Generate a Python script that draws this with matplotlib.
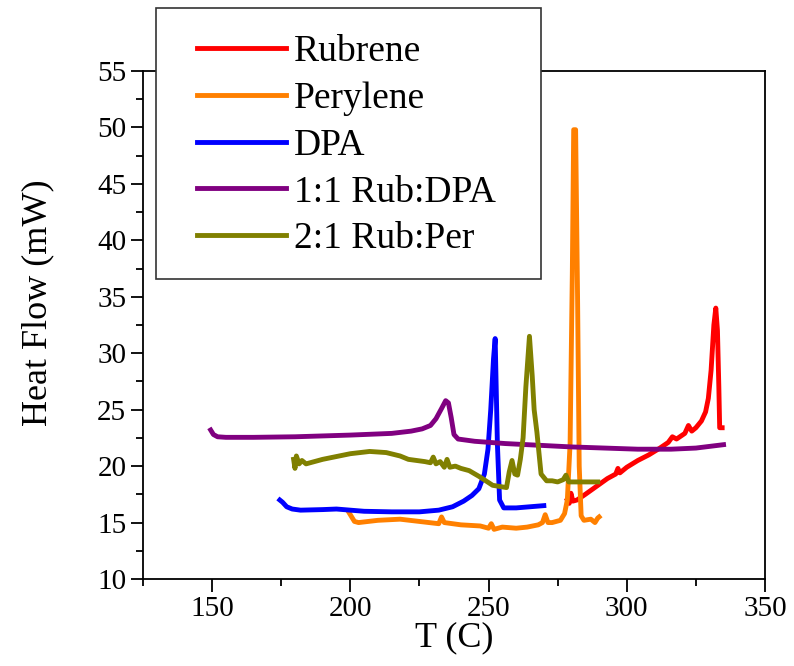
import matplotlib
matplotlib.use("Agg")
import matplotlib.pyplot as plt
from matplotlib.patches import Rectangle
from matplotlib.ticker import MultipleLocator

plt.rcParams.update({
    "font.family": ["Liberation Serif", "DejaVu Serif"],
    "axes.linewidth": 1.3,
})

RED = "#ff0000"
ORANGE = "#ff8000"
BLUE = "#0000ff"
PURPLE = "#800080"
OLIVE = "#808000"

# Rubrene
rub_T = [278.5, 279.2, 279.8, 280.5, 282, 285, 289, 293, 296, 296.8, 297.5, 300, 304, 308,
         312, 315, 316.5, 318, 321, 322.3, 323.5, 325, 327, 328.5, 329.5, 330.5, 331.5,
         332.2, 332.8, 333.3, 333.6, 334.5]
rub_H = [17.0, 16.7, 17.6, 16.9, 17.0, 17.5, 18.2, 18.9, 19.3, 19.8, 19.4, 19.9, 20.5, 21.0,
         21.6, 22.1, 22.6, 22.4, 22.9, 23.6, 23.1, 23.4, 24.0, 24.8, 26.0, 28.5, 32.5,
         34.0, 32.0, 27.0, 23.4, 23.4]

# Perylene
per_T = [199.5, 200.5, 201.5, 203, 210, 218, 225, 232, 233, 234, 240, 247, 250, 251, 252,
         255, 260, 264, 268, 269.5, 270.5, 271.5, 273, 276, 277.5, 278.5, 279.5, 280.3,
         280.8, 281.5, 282.2, 282.8, 283.5, 284.5, 287, 288.5, 289.5, 290]
per_H = [15.9, 15.5, 15.1, 15.0, 15.2, 15.3, 15.1, 14.9, 15.5, 15.0, 14.8, 14.7, 14.5, 14.9,
         14.4, 14.6, 14.5, 14.6, 14.8, 15.0, 15.7, 15.0, 15.0, 15.2, 15.8, 17.0, 22.0, 37.0,
         49.8, 49.8, 35.0, 20.0, 15.6, 15.2, 15.3, 15.0, 15.4, 15.5]

# DPA
dpa_T = [174.5, 175.5, 177, 179, 182, 190, 195, 205, 215, 225, 232, 237, 241, 244, 246.5,
         248.5, 249.8, 250.8, 251.8, 252.4, 253.2, 254, 255.5, 260, 265, 270]
dpa_H = [17.0, 16.8, 16.4, 16.2, 16.1, 16.15, 16.2, 16.0, 15.95, 15.95, 16.1, 16.4, 16.9,
         17.4, 18.0, 19.3, 21.5, 25.0, 29.5, 31.3, 22.0, 17.0, 16.3, 16.3, 16.4, 16.5]

# 1:1 Rub:DPA
rd_T = [149.5, 150.5, 152, 155, 165, 180, 200, 215, 222, 226, 229, 231, 233, 234.5, 235.5,
        236.5, 237.5, 239, 245, 256, 268, 280, 292, 304, 316, 325, 335]
rd_H = [23.2, 22.8, 22.6, 22.55, 22.55, 22.6, 22.75, 22.9, 23.1, 23.3, 23.6, 24.2, 25.1,
        25.8, 25.6, 24.3, 22.8, 22.4, 22.2, 22.0, 21.85, 21.7, 21.6, 21.5, 21.5, 21.6, 21.9]

# 2:1 Rub:Per
rp_T = [179.5, 180, 180.5, 181.5, 182.5, 184, 190, 200, 207, 213, 218, 221, 224, 227, 229,
        230, 231, 232.5, 234, 235, 236, 238, 240, 243, 246.5, 249, 251.5, 254, 256.5, 257.5,
        258.5, 259.5, 260.5, 261.5, 262.5, 263.5, 264.8, 265.8, 266.5, 267.5, 269, 271, 273,
        275, 277, 278, 279, 281, 285, 289.5]
rp_H = [20.6, 19.8, 20.9, 20.2, 20.5, 20.2, 20.6, 21.1, 21.3, 21.2, 20.9, 20.6, 20.5, 20.4,
        20.3, 20.8, 20.2, 20.4, 19.9, 20.6, 19.9, 20.0, 19.8, 19.6, 19.1, 18.7, 18.3, 18.2,
        18.1, 19.5, 20.5, 19.3, 19.2, 20.6, 22.5, 27.0, 31.5, 28.0, 25.0, 23.0, 19.3, 18.7,
        18.7, 18.6, 18.8, 19.2, 18.6, 18.6, 18.6, 18.6]

W, H = 794, 666
fig = plt.figure(figsize=(W / 100, H / 100), dpi=100)
ax = fig.add_axes([0.180, 0.1306, 0.7835, 0.7628])

lw = 3.5
ax.plot(rub_T, rub_H, color=RED, lw=lw, label="Rubrene")
ax.plot(per_T, per_H, color=ORANGE, lw=lw, label="Perylene")
ax.plot(dpa_T, dpa_H, color=BLUE, lw=lw, label="DPA")
ax.plot(rd_T, rd_H, color=PURPLE, lw=lw, label="1:1 Rub:DPA")
ax.plot(rp_T, rp_H, color=OLIVE, lw=lw, label="2:1 Rub:Per")

ax.set_xlim(125, 350)
ax.set_ylim(10, 55)
ax.xaxis.set_major_locator(MultipleLocator(50))
ax.xaxis.set_minor_locator(MultipleLocator(25))
ax.yaxis.set_major_locator(MultipleLocator(5))
ax.yaxis.set_minor_locator(MultipleLocator(2.5))
ax.set_xticks([150, 200, 250, 300, 350])
ax.tick_params(which="major", direction="out", length=9, width=1.3, labelsize=21, pad=3)
ax.tick_params(which="minor", direction="out", length=5, width=1.3)

ax.set_xlabel("T (C)", fontsize=26, labelpad=0)
ax.set_ylabel("Heat Flow (mW)", fontsize=26)
ax.yaxis.set_label_coords(-0.142, 0.543)

# legend box (frame drawn separately so padding matches the original)
fig.add_artist(Rectangle((156 / W, 1 - 279 / H), 385 / W, 271 / H,
                         transform=fig.transFigure, facecolor="white",
                         edgecolor="#333333", linewidth=1.2, zorder=3))
leg = fig.legend(*ax.get_legend_handles_labels(), loc="upper left",
                 bbox_to_anchor=(173 / W, 1 - 10 / H), fontsize=27, frameon=False,
                 handlelength=2.37, handletextpad=0.21, labelspacing=0.33,
                 borderpad=0.65, borderaxespad=0)
leg.set_zorder(4)
for line in leg.get_lines():
    line.set_linewidth(lw)

fig.savefig("out.png", dpi=100)
